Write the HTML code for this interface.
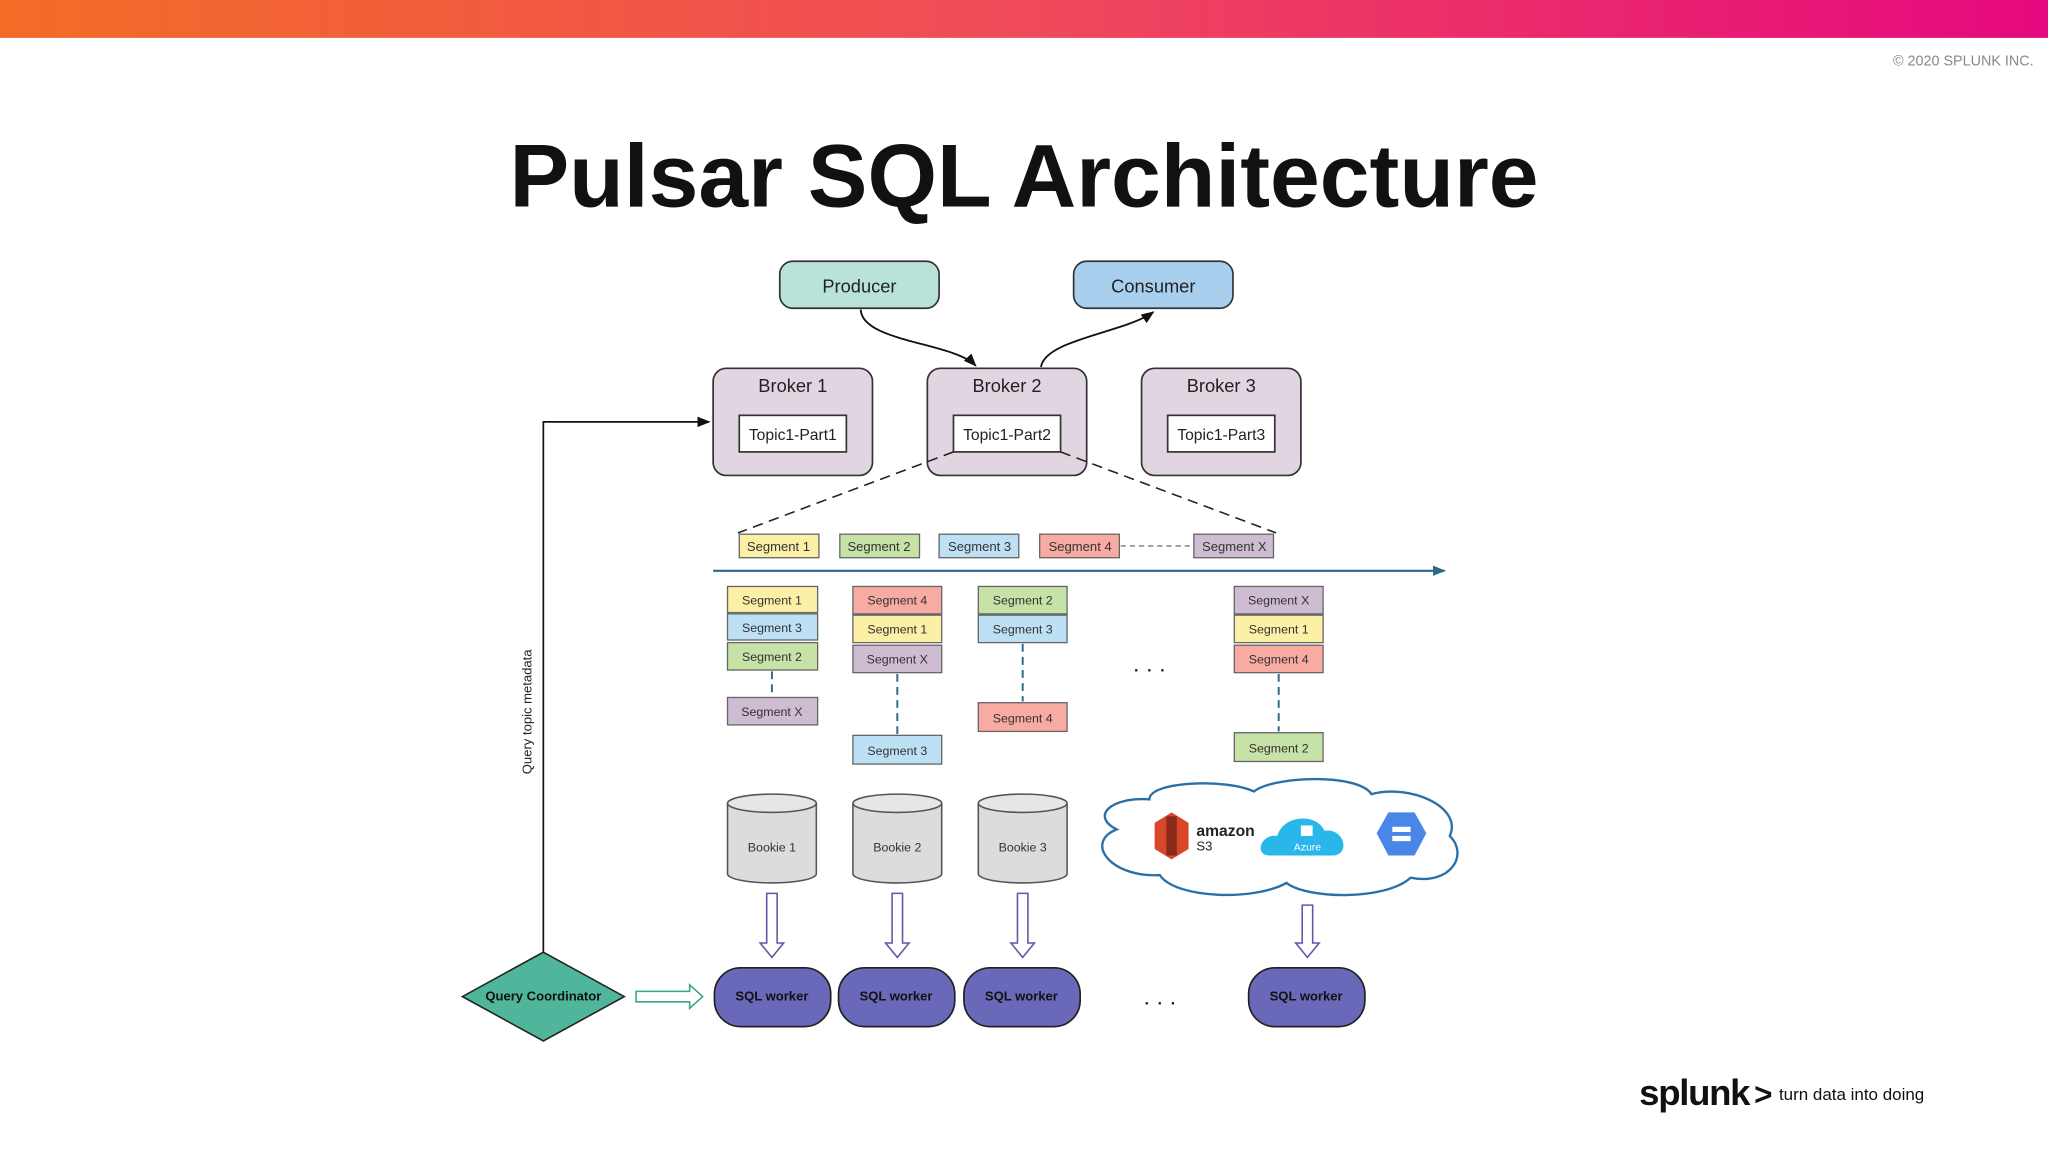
<!DOCTYPE html>
<html><head><meta charset="utf-8"><style>
html,body{margin:0;padding:0;background:#fff;width:2048px;height:1152px;overflow:hidden}
svg{display:block}
text{font-family:"Liberation Sans","DejaVu Sans",sans-serif}
</style></head><body>
<svg width="2048" height="1152" viewBox="0 0 1568 882" xmlns="http://www.w3.org/2000/svg">
<defs>
<linearGradient id="bar" x1="0" x2="1"><stop offset="0" stop-color="#f36c26"/><stop offset="0.5" stop-color="#f04a5a"/><stop offset="1" stop-color="#e5087f"/></linearGradient>
<marker id="ah" markerWidth="10" markerHeight="8" refX="9" refY="4" orient="auto" markerUnits="userSpaceOnUse"><path d="M0,0L10,4L0,8z" fill="#111"/></marker>
<marker id="ahb" markerWidth="10" markerHeight="8" refX="9" refY="4" orient="auto" markerUnits="userSpaceOnUse"><path d="M0,0L10,4L0,8z" fill="#2a6a8a"/></marker>
</defs>
<rect x="0" y="0" width="1568" height="29" fill="url(#bar)"/>
<text x="1557" y="50" font-size="11" fill="#888" text-anchor="end">© 2020 SPLUNK INC.</text>
<text x="784" y="158" font-size="68.5" font-weight="bold" fill="#111" text-anchor="middle">Pulsar SQL Architecture</text>

<rect x="597" y="200" width="122" height="36" rx="10" fill="#b9e3d8" stroke="#333" stroke-width="1.3"/>
<text x="658" y="224" font-size="14" text-anchor="middle" fill="#222">Producer</text>
<rect x="822" y="200" width="122" height="36" rx="10" fill="#a9cfee" stroke="#333" stroke-width="1.3"/>
<text x="883" y="224" font-size="14" text-anchor="middle" fill="#222">Consumer</text>
<path d="M659,237 C660,262 730,262 747,280" fill="none" stroke="#111" stroke-width="1.4" marker-end="url(#ah)"/>
<path d="M797,281 C800,260 860,255 883,239" fill="none" stroke="#111" stroke-width="1.4" marker-end="url(#ah)"/>

<g stroke="#333" stroke-width="1.3">
<rect x="546" y="282" width="122" height="82" rx="10" fill="#e1d5e1"/>
<rect x="710" y="282" width="122" height="82" rx="10" fill="#e1d5e1"/>
<rect x="874" y="282" width="122" height="82" rx="10" fill="#e1d5e1"/>
<rect x="566" y="318" width="82" height="28" fill="#fff"/>
<rect x="730" y="318" width="82" height="28" fill="#fff"/>
<rect x="894" y="318" width="82" height="28" fill="#fff"/>
</g>
<g font-size="14" text-anchor="middle" fill="#222">
<text x="607" y="300">Broker 1</text><text x="771" y="300">Broker 2</text><text x="935" y="300">Broker 3</text>
</g>
<g font-size="12" text-anchor="middle" fill="#222">
<text x="607" y="337">Topic1-Part1</text><text x="771" y="337">Topic1-Part2</text><text x="935" y="337">Topic1-Part3</text>
</g>
<path d="M730,346 L565,408 M812,346 L977,408" stroke="#222" stroke-width="1.2" stroke-dasharray="8,5" fill="none"/>

<g stroke="#666" stroke-width="1">
<rect x="566" y="409" width="61" height="18" fill="#fcefa6"/>
<rect x="643" y="409" width="61" height="18" fill="#c6e2a6"/>
<rect x="719" y="409" width="61" height="18" fill="#bde0f4"/>
<rect x="796" y="409" width="61" height="18" fill="#f7aba2"/>
<rect x="914" y="409" width="61" height="18" fill="#cdbcd2"/>
</g>
<line x1="858" y1="418" x2="913" y2="418" stroke="#777" stroke-dasharray="4,3"/>
<g font-size="10" text-anchor="middle" fill="#333">
<text x="596" y="422">Segment 1</text><text x="673" y="422">Segment 2</text><text x="750" y="422">Segment 3</text><text x="827" y="422">Segment 4</text><text x="945" y="422">Segment X</text>
</g>
<line x1="546" y1="437" x2="1106" y2="437" stroke="#2a6a8a" stroke-width="1.6" marker-end="url(#ahb)"/>

<g stroke="#666" stroke-width="1">
<rect x="557" y="449" width="69" height="20" fill="#fcefa6"/>
<rect x="557" y="470" width="69" height="20" fill="#bde0f4"/>
<rect x="557" y="492" width="69" height="21" fill="#c6e2a6"/>
<rect x="557" y="534" width="69" height="21" fill="#cdbcd2"/>
<rect x="653" y="449" width="68" height="21" fill="#f7aba2"/>
<rect x="653" y="471" width="68" height="21" fill="#fcefa6"/>
<rect x="653" y="494" width="68" height="21" fill="#cdbcd2"/>
<rect x="653" y="563" width="68" height="22" fill="#bde0f4"/>
<rect x="749" y="449" width="68" height="21" fill="#c6e2a6"/>
<rect x="749" y="471" width="68" height="21" fill="#bde0f4"/>
<rect x="749" y="538" width="68" height="22" fill="#f7aba2"/>
<rect x="945" y="449" width="68" height="21" fill="#cdbcd2"/>
<rect x="945" y="471" width="68" height="21" fill="#fcefa6"/>
<rect x="945" y="494" width="68" height="21" fill="#f7aba2"/>
<rect x="945" y="561" width="68" height="22" fill="#c6e2a6"/>
</g>
<g stroke="#2a6a8a" stroke-width="1.5" stroke-dasharray="6,4">
<line x1="591" y1="514" x2="591" y2="533"/>
<line x1="687" y1="516" x2="687" y2="562"/>
<line x1="783" y1="493" x2="783" y2="537"/>
<line x1="979" y1="516" x2="979" y2="560"/>
</g>
<g font-size="9.5" text-anchor="middle" fill="#333">
<text x="591" y="463">Segment 1</text><text x="591" y="484">Segment 3</text><text x="591" y="506">Segment 2</text><text x="591" y="548">Segment X</text>
<text x="687" y="463">Segment 4</text><text x="687" y="485">Segment 1</text><text x="687" y="508">Segment X</text><text x="687" y="578">Segment 3</text>
<text x="783" y="463">Segment 2</text><text x="783" y="485">Segment 3</text><text x="783" y="553">Segment 4</text>
<text x="979" y="463">Segment X</text><text x="979" y="485">Segment 1</text><text x="979" y="508">Segment 4</text><text x="979" y="576">Segment 2</text>
</g>
<text x="880" y="514" font-size="18" text-anchor="middle" fill="#222">. . .</text>

<g stroke="#555" stroke-width="1.2">
<path d="M557,615 L557,669 A34,7 0 0 0 625,669 L625,615" fill="#dcdcdc"/>
<ellipse cx="591" cy="615" rx="34" ry="7" fill="#e6e6e6"/>
<path d="M653,615 L653,669 A34,7 0 0 0 721,669 L721,615" fill="#dcdcdc"/>
<ellipse cx="687" cy="615" rx="34" ry="7" fill="#e6e6e6"/>
<path d="M749,615 L749,669 A34,7 0 0 0 817,669 L817,615" fill="#dcdcdc"/>
<ellipse cx="783" cy="615" rx="34" ry="7" fill="#e6e6e6"/>
</g>
<g font-size="9.5" text-anchor="middle" fill="#333">
<text x="591" y="652">Bookie 1</text><text x="687" y="652">Bookie 2</text><text x="783" y="652">Bookie 3</text>
</g>

<path d="M880,612 C880,598 940,596 960,606 C975,594 1040,592 1050,608 C1080,600 1120,618 1110,640 C1125,655 1110,678 1080,672 C1060,690 1000,688 985,676 C960,690 900,688 888,670 C850,672 830,645 855,635 C835,625 850,610 880,612 Z" fill="#fff" stroke="#2a6fa6" stroke-width="1.8"/>
<g>
<path d="M884,630 L897,622 L910,630 L910,650 L897,658 L884,650Z" fill="#d9472b"/>
<rect x="893" y="625" width="8" height="30" fill="#8c2a1a"/>
<text x="916" y="640" font-size="12" font-weight="bold" fill="#222">amazon</text>
<text x="916" y="651" font-size="10" fill="#222">S3</text>
<path d="M972,655 C960,655 965,638 978,640 C982,624 1008,622 1014,636 C1030,634 1034,655 1020,655 Z" fill="#29b6ea"/>
<rect x="996" y="632" width="9" height="8" fill="#fff"/>
<text x="1001" y="651" font-size="8" fill="#fff" text-anchor="middle">Azure</text>
<path d="M1063,622 L1083,622 L1092,638 L1083,655 L1063,655 L1054,638Z" fill="#4a86e8"/>
<rect x="1066" y="633" width="14" height="4" fill="#fff"/><rect x="1066" y="640" width="14" height="4" fill="#fff"/>
</g>

<g fill="#fff" stroke="#5a5aa8" stroke-width="1.2">
<path d="M587,684 L595,684 L595,722 L600,722 L591,733 L582,722 L587,722Z"/>
<path d="M683,684 L691,684 L691,722 L696,722 L687,733 L678,722 L683,722Z"/>
<path d="M779,684 L787,684 L787,722 L792,722 L783,733 L774,722 L779,722Z"/>
<path d="M997,693 L1005,693 L1005,722 L1010,722 L1001,733 L992,722 L997,722Z"/>
</g>

<g fill="#6a68b8" stroke="#222" stroke-width="1.3">
<rect x="547" y="741" width="89" height="45" rx="20"/>
<rect x="642" y="741" width="89" height="45" rx="20"/>
<rect x="738" y="741" width="89" height="45" rx="20"/>
<rect x="956" y="741" width="89" height="45" rx="20"/>
</g>
<g font-size="10" font-weight="bold" text-anchor="middle" fill="#111">
<text x="591" y="766">SQL worker</text><text x="686" y="766">SQL worker</text><text x="782" y="766">SQL worker</text><text x="1000" y="766">SQL worker</text>
</g>
<text x="888" y="769" font-size="18" text-anchor="middle" fill="#222">. . .</text>

<path d="M416,729 L478,763 L416,797 L354,763Z" fill="#4fb59b" stroke="#222" stroke-width="1.2"/>
<text x="416" y="766" font-size="10" font-weight="bold" text-anchor="middle" fill="#111">Query Coordinator</text>
<path d="M487,759 L528,759 L528,754 L538,763 L528,772 L528,767 L487,767Z" fill="#fff" stroke="#3aa58a" stroke-width="1.2"/>
<path d="M416,729 L416,323 L543,323" fill="none" stroke="#111" stroke-width="1.3" marker-end="url(#ah)"/>
<text x="0" y="0" font-size="10" fill="#222" text-anchor="middle" transform="translate(407,545) rotate(-90)">Query topic metadata</text>

<text x="1255" y="846" font-size="28" font-weight="bold" fill="#111" letter-spacing="-1">splunk</text>
<text x="1343" y="846" font-size="24" font-weight="bold" fill="#111">&gt;</text>
<text x="1362" y="842" font-size="13" fill="#111">turn data into doing</text>
</svg>
</body></html>
